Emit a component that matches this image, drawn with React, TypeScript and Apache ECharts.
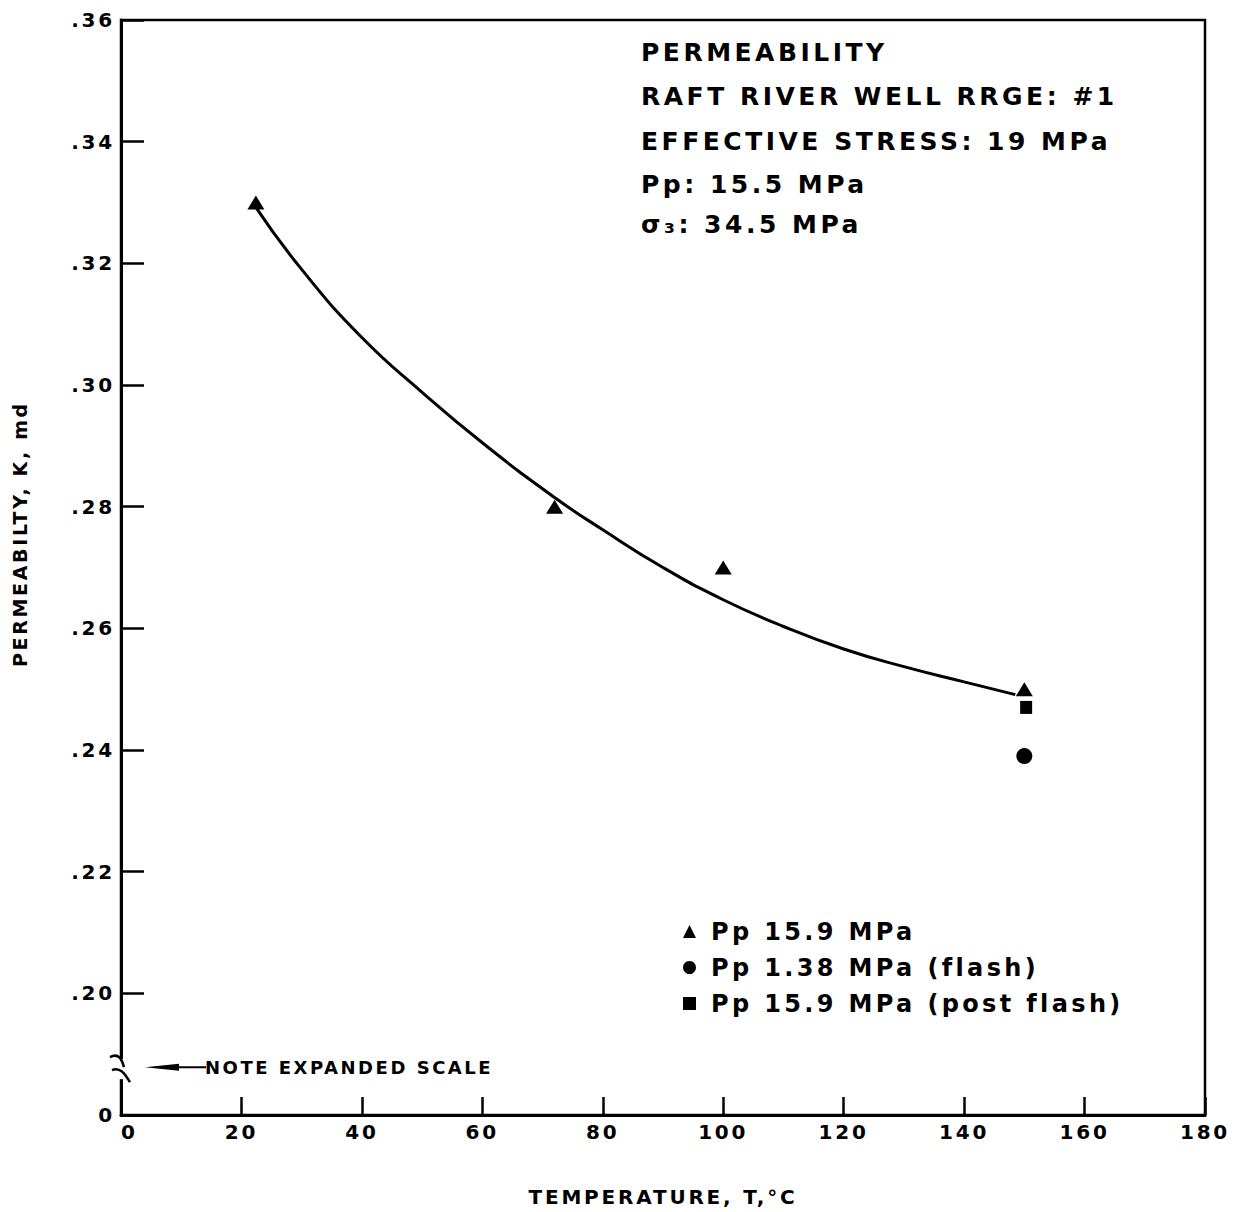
import React, { useEffect, useRef } from "react";
import * as echarts from "echarts";

// ---- data ----
const xTickValues = [0, 20, 40, 60, 80, 100, 120, 140, 160, 180];
const triangleT = [22.4, 72, 100, 150];
const triangleK = [0.33, 0.28, 0.27, 0.25];
const flashT = [150];
const flashK = [0.239];
const postFlashT = [150.3];
const postFlashK = [0.247];
const curveT = [22.4, 30, 40, 50, 60, 72, 80, 90, 100, 110, 120, 130, 140, 148.5];
const curveK = [0.3292, 0.319, 0.3078, 0.2988, 0.2905, 0.2815, 0.2762, 0.27, 0.2647, 0.2603, 0.2566, 0.2537, 0.2512, 0.2491];
const legendNames = ["Pp 15.9 MPa", "Pp 1.38 MPa (flash)", "Pp 15.9 MPa (post flash)"];
const annotationLines = [
  "PERMEABILITY",
  "RAFT RIVER WELL RRGE: #1",
  "EFFECTIVE STRESS: 19 MPa",
  "Pp: 15.5 MPa",
  "σ₃: 34.5 MPa",
];
const xTitle = "TEMPERATURE, T,°C";
const yTitle = "PERMEABILTY, K, md";
const noteText = "NOTE EXPANDED SCALE";
const yBreakValue = 0.1877;

const FONT = '"DejaVu Sans", "Liberation Sans", sans-serif';

export default function App() {
  const ref = useRef<HTMLDivElement>(null);

  useEffect(() => {
    document.body.style.margin = "0";
    if (!ref.current) return;
    const chart = echarts.init(ref.current, null, { renderer: "svg" });

    const zip = (a: number[], b: number[]) => a.map((v, i) => [v, b[i]]);

    chart.setOption({
      animation: false,
      backgroundColor: "#fff",
      color: ["#000"],
      grid: {
        left: 121,
        right: 46,
        top: 20,
        bottom: 97,
        show: true,
        borderColor: "#000",
        borderWidth: 2.5,
        backgroundColor: "transparent",
      },
      xAxis: {
        type: "value",
        min: xTickValues[0],
        max: xTickValues[xTickValues.length - 1],
        interval: 20,
        name: xTitle,
        nameLocation: "middle",
        nameGap: 72,
        nameTextStyle: { fontFamily: FONT, fontWeight: "bold", fontSize: 20, color: "#000" },
        axisLine: { show: true, lineStyle: { color: "#000", width: 3 } },
        axisTick: { show: true, inside: true, length: 18, lineStyle: { color: "#000", width: 2.5 } },
        axisLabel: {
          margin: 7,
          fontFamily: FONT,
          fontWeight: "bold",
          fontSize: 20,
          color: "#000",
          alignMinLabel: "left",
        },
        splitLine: { show: false },
      },
      yAxis: {
        type: "value",
        min: 0.18,
        max: 0.36,
        interval: 0.02,
        axisLine: { show: true, lineStyle: { color: "#000", width: 3 } },
        axisTick: { show: true, inside: true, length: 23, lineStyle: { color: "#000", width: 2.5 } },
        axisLabel: {
          margin: 6,
          fontFamily: FONT,
          fontWeight: "bold",
          fontSize: 20,
          color: "#000",
          formatter: (v: number) => {
            const r = Math.round(v * 100);
            return r === 18 ? "0" : "." + r;
          },
        },
        splitLine: { show: false },
      },
      legend: {
        orient: "vertical",
        left: 678,
        top: 914,
        itemWidth: 13,
        itemHeight: 13,
        itemGap: 11,
        selectedMode: false,
        data: [
          { name: legendNames[0], icon: "triangle" },
          { name: legendNames[1], icon: "circle" },
          { name: legendNames[2], icon: "rect" },
        ],
        textStyle: {
          fontFamily: FONT,
          fontWeight: "bold",
          fontSize: 24,
          lineHeight: 25,
          color: "#000",
          padding: [0, 0, 0, 10],
        },
      },
      series: [
        {
          type: "line",
          name: "curve",
          data: zip(curveT, curveK),
          smooth: 0.5,
          showSymbol: false,
          silent: true,
          lineStyle: { color: "#000", width: 3 },
          z: 2,
        },
        {
          type: "scatter",
          name: legendNames[0],
          data: zip(triangleT, triangleK),
          symbol: "triangle",
          symbolSize: [17, 14],
          itemStyle: { color: "#000", opacity: 1 },
          silent: true,
          z: 3,
        },
        {
          type: "scatter",
          name: legendNames[1],
          data: zip(flashT, flashK),
          symbol: "circle",
          symbolSize: 16,
          itemStyle: { color: "#000", opacity: 1 },
          silent: true,
          z: 3,
        },
        {
          type: "scatter",
          name: legendNames[2],
          data: zip(postFlashT, postFlashK),
          symbol: "rect",
          symbolSize: [12, 13],
          itemStyle: { color: "#000", opacity: 1 },
          silent: true,
          z: 3,
        },
      ],
    });

    // decorations tied to the axis scale
    const [ax, c] = chart.convertToPixel({ gridIndex: 0 }, [0, yBreakValue]) as number[];
    const [, yTop] = chart.convertToPixel({ gridIndex: 0 }, [0, 0.36]) as number[];
    const annY = [52, 96, 141, 184, 224];
    const graphic: any[] = [
      // gap in the axis
      { type: "rect", z: 100, shape: { x: ax - 3, y: c - 9, width: 6, height: 20 }, style: { fill: "#fff" } },
      {
        type: "bezierCurve",
        z: 101,
        shape: { x1: ax - 11, y1: c - 11, cpx1: ax - 2, cpy1: c - 16, cpx2: ax + 1, cpy2: c - 8, x2: ax + 3, y2: c - 1 },
        style: { stroke: "#000", lineWidth: 2.5, fill: "none" },
      },
      {
        type: "bezierCurve",
        z: 101,
        shape: { x1: ax - 9, y1: c + 2, cpx1: ax, cpy1: c - 2, cpx2: ax + 5, cpy2: c + 8, x2: ax + 9, y2: c + 14 },
        style: { stroke: "#000", lineWidth: 2.5, fill: "none" },
      },
      // arrow
      {
        type: "polygon",
        z: 101,
        shape: { points: [[ax + 24, c - 1], [ax + 58, c - 4.5], [ax + 58, c + 2.5]] },
        style: { fill: "#000" },
      },
      {
        type: "line",
        z: 101,
        shape: { x1: ax + 50, y1: c - 1, x2: ax + 85, y2: c - 1 },
        style: { stroke: "#000", lineWidth: 2 },
      },
      {
        type: "text",
        z: 101,
        x: ax + 84,
        y: c - 1,
        style: {
          text: noteText,
          fontFamily: FONT,
          fontWeight: "bold",
          fontSize: 18,
          fill: "#000",
          verticalAlign: "middle",
        },
      },
      // y axis title
      {
        type: "text",
        z: 101,
        x: 20,
        y: (yTop + c) / 2 - 10,
        rotation: Math.PI / 2,
        style: {
          text: yTitle,
          fontFamily: FONT,
          fontWeight: "bold",
          fontSize: 19,
          fill: "#000",
          align: "center",
          verticalAlign: "middle",
        },
      },
    ];
    annotationLines.forEach((t, i) => {
      graphic.push({
        type: "text",
        z: 101,
        x: 641,
        y: annY[i],
        style: {
          text: t,
          fontFamily: FONT,
          fontWeight: "bold",
          fontSize: 25,
          fill: "#000",
          verticalAlign: "middle",
        },
      });
    });
    chart.setOption({ graphic });

    return () => chart.dispose();
  }, []);

  return (
    <>
      <style>{".chart-root text{letter-spacing:0.14em}"}</style>
      <div
        ref={ref}
        className="chart-root"
        style={{ position: "absolute", left: 0, top: 0, width: 1251, height: 1212 }}
      />
    </>
  );
}
